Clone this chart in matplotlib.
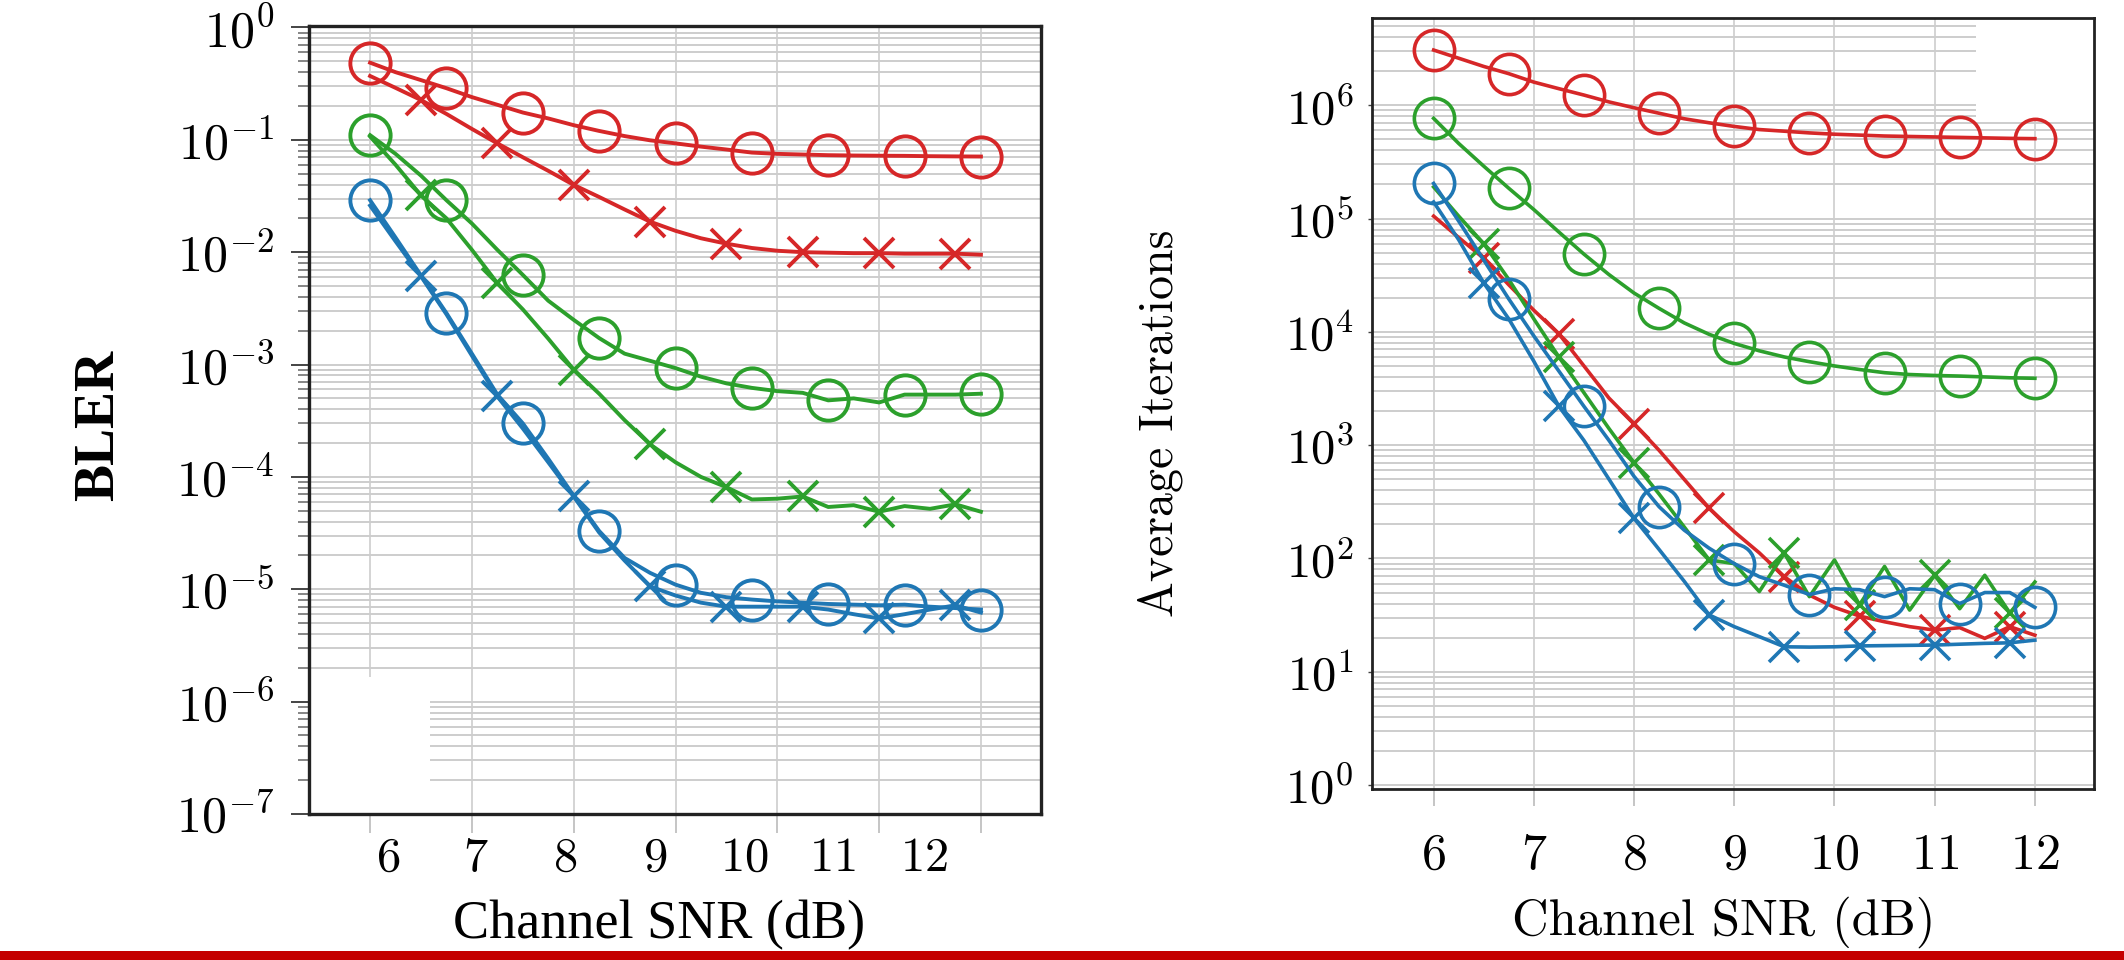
import numpy as np
import matplotlib
matplotlib.use('Agg')
import matplotlib.pyplot as plt
from matplotlib.patches import Rectangle
from matplotlib.ticker import LogLocator, FuncFormatter, NullFormatter, FixedLocator
import matplotlib.transforms as mtransforms

plt.rcParams['mathtext.fontset'] = 'cm'

# ---------------- data ----------------
snr = [6.0, 6.25, 6.5, 6.75, 7.0, 7.25, 7.5, 7.75, 8.0, 8.25, 8.5, 8.75, 9.0,
       9.25, 9.5, 9.75, 10.0, 10.25, 10.5, 10.75, 11.0, 11.25, 11.5, 11.75, 12.0]

bler_red_o = [0.486, 0.40, 0.34, 0.288, 0.24, 0.205, 0.175, 0.155, 0.135, 0.12, 0.108, 0.099, 0.093,
              0.087, 0.082, 0.077, 0.075, 0.074, 0.073, 0.0725, 0.0722, 0.072, 0.0715, 0.0712, 0.071]
bler_red_x = [0.37, 0.29, 0.226, 0.17, 0.125, 0.093, 0.07, 0.053, 0.0397, 0.031, 0.024, 0.0187, 0.0155,
              0.0133, 0.0119, 0.0109, 0.0103, 0.0100, 0.0099, 0.0098, 0.0098, 0.0097, 0.0097, 0.0097, 0.0095]
bler_green_o = [0.11, 0.075, 0.048, 0.029, 0.018, 0.0105, 0.00628, 0.0037, 0.0025, 0.00172, 0.00125, 0.00108, 0.00093,
                0.00078, 0.00068, 0.00062, 0.00058, 0.00056, 0.00048, 0.0005, 0.00046, 0.00054, 0.00054, 0.00054, 0.00055]
bler_green_x = [0.107, 0.06, 0.032, 0.02, 0.0105, 0.0053, 0.0031, 0.0017, 0.0009, 0.00055, 0.00032, 0.000195, 0.000135,
                0.0001, 8.1e-5, 6.3e-5, 6.4e-5, 6.7e-5, 5.4e-5, 5.6e-5, 4.9e-5, 5.5e-5, 5.2e-5, 5.7e-5, 4.9e-5]
bler_blue_o = [0.029, 0.0135, 0.0062, 0.00287, 0.00125, 0.00054, 0.0003, 0.000145, 6.8e-5, 3.3e-5, 1.9e-5, 1.4e-5, 1.1e-5,
               9.3e-6, 8.5e-6, 8.1e-6, 7.8e-6, 7.6e-6, 7.4e-6, 7.3e-6, 7.2e-6, 7.3e-6, 7.0e-6, 6.8e-6, 6.6e-6]
bler_blue_x = [0.026, 0.0125, 0.0061, 0.0028, 0.0012, 0.00052, 0.00027, 0.000135, 6.7e-5, 3.2e-5, 1.8e-5, 1.06e-5, 8.8e-6,
               7.6e-6, 7.0e-6, 7.0e-6, 7.0e-6, 7.0e-6, 6.6e-6, 6.0e-6, 5.5e-6, 6.0e-6, 6.6e-6, 7.2e-6, 6.2e-6]

it_red_o = [3.07e6, 2.6e6, 2.2e6, 1.9e6, 1.6e6, 1.4e6, 1.23e6, 1.07e6, 9.5e5, 8.5e5, 7.6e5, 7.0e5, 6.5e5,
            6.1e5, 5.9e5, 5.7e5, 5.55e5, 5.45e5, 5.35e5, 5.3e5, 5.25e5, 5.2e5, 5.15e5, 5.1e5, 5.07e5]
it_red_x = [1.05e5, 6.8e4, 4.45e4, 2.6e4, 1.55e4, 9.6e3, 5.0e3, 2.6e3, 1.55e3, 900, 500, 277, 172,
            112, 69, 47.5, 37, 31, 27.6, 25, 23.3, 24.5, 19.7, 25, 21]
it_green_o = [7.66e5, 4.6e5, 2.9e5, 1.85e5, 1.2e5, 7.6e4, 4.85e4, 3.2e4, 2.2e4, 1.61e4, 1.2e4, 9.5e3, 7.9e3,
              6.8e3, 6.0e3, 5.45e3, 5.0e3, 4.65e3, 4.36e3, 4.2e3, 4.12e3, 4.07e3, 4.0e3, 3.93e3, 3.89e3]
it_green_x = [1.9e5, 1.05e5, 6.0e4, 2.9e4, 1.3e4, 6.0e3, 2.9e3, 1.4e3, 700, 370, 190, 97, 90,
              51, 111, 46, 97, 39, 85, 35, 71, 36, 71, 33, 62]
it_blue_o = [2.04e5, 9.5e4, 4.3e4, 1.95e4, 9.2e3, 4.5e3, 2.2e3, 1.1e3, 530, 286, 178, 123, 90,
             69, 58, 48, 54, 53, 46, 54, 53, 40, 50, 50, 37]
it_blue_x = [1.4e5, 6.5e4, 2.7e4, 1.3e4, 5.5e3, 2.2e3, 1.1e3, 500, 226, 120, 63, 31.7, 25,
             20.4, 16.6, 16.5, 16.6, 16.9, 17, 17.1, 17.2, 17.5, 17.8, 18, 19]

xtick_vals = [6, 7, 8, 9, 10, 11, 12]
xtick_labels = ['6', '7', '8', '9', '10', '11', '12']

# ---------------- style ----------------
RED, GREEN, BLUE = '#d62728', '#2ca02c', '#1f77b4'
GRID = '#cdcdcd'
W, H = 2124, 960

fig = plt.figure(figsize=(W / 100, H / 100), dpi=100)

def ax_rect(x0, x1, y0, y1):
    return [x0 / W, 1 - y1 / H, (x1 - x0) / W, (y1 - y0) / H]

ax1 = fig.add_axes(ax_rect(309, 1041, 26, 814))
ax2 = fig.add_axes(ax_rect(1372, 2094, 18, 789))

def log_fmt(v, p):
    return r'$10^{%d}$' % int(round(np.log10(v)))

for ax in (ax1, ax2):
    ax.set_yscale('log')
    ax.set_axisbelow(True)
    ax.yaxis.set_major_locator(LogLocator(base=10, numticks=30))
    ax.yaxis.set_minor_locator(LogLocator(base=10, subs=np.arange(2, 10), numticks=30))
    ax.yaxis.set_major_formatter(FuncFormatter(log_fmt))
    ax.yaxis.set_minor_formatter(NullFormatter())
    ax.xaxis.set_major_locator(FixedLocator(xtick_vals))
    ax.grid(True, which='major', axis='x', color=GRID, lw=1.2)
    ax.grid(True, which='both', axis='y', color=GRID, lw=1.4)

# ---------------- left: BLER ----------------
ax1.set_xlim(5.40, 12.59)
ax1.set_ylim(1e-7, 10 ** 0.013)
series1 = [(bler_red_o, RED, 'o'), (bler_red_x, RED, 'x'),
           (bler_green_o, GREEN, 'o'), (bler_green_x, GREEN, 'x'),
           (bler_blue_o, BLUE, 'o'), (bler_blue_x, BLUE, 'x')]
for vals, c, m in series1:
    ax1.plot(snr, vals, color=c, lw=2.8, marker=m,
             markersize=29 if m == 'o' else 21, mew=2.8, mfc='none',
             markevery=(0, 3) if m == 'o' else (2, 3), zorder=3)
# white patch in lower left corner
ax1.add_patch(Rectangle((5.40, 1e-7), 6.59 - 5.40, 1.66e-6 - 1e-7,
                        facecolor='white', edgecolor='none', zorder=1))
ax1.xaxis.set_major_formatter(NullFormatter())
ax1.tick_params(axis='x', which='major', direction='out', length=14, width=1.2,
                color='#bbbbbb')
ax1.tick_params(axis='y', which='major', direction='out', length=13, width=1.4,
                color='#444444', labelsize=36, pad=12)
ax1.tick_params(axis='y', which='minor', direction='out', length=8, width=1.1,
                color='#666666')
for s in ax1.spines.values():
    s.set_linewidth(2.4)
    s.set_color('#222222')
# shifted x tick labels, as in the reference
label_pos = [6.18, 7.04, 7.92, 8.80, 9.68, 10.54, 11.44]
trans1 = mtransforms.blended_transform_factory(ax1.transData, ax1.transAxes)
for xp, lab in zip(label_pos, xtick_labels):
    ax1.text(xp, -0.024, r'$%s$' % lab, transform=trans1, ha='center', va='top',
             fontsize=35)

fig.text(99 / W, 1 - 425 / H, 'BLER', rotation=90, ha='center', va='center',
         fontsize=40, fontweight='bold', family='Liberation Serif')
fig.text(659 / W, 1 - 925 / H, 'Channel SNR (dB)', ha='center', va='center',
         fontsize=39, family='Liberation Serif')

# ---------------- right: iterations ----------------
ax2.set_xlim(5.385, 12.59)
ax2.set_ylim(10 ** -0.035, 10 ** 6.77)
series2 = [(it_red_o, RED, 'o'), (it_red_x, RED, 'x'),
           (it_green_o, GREEN, 'o'), (it_green_x, GREEN, 'x'),
           (it_blue_o, BLUE, 'o'), (it_blue_x, BLUE, 'x')]
for vals, c, m in series2:
    ax2.plot(snr, vals, color=c, lw=2.6, marker=m,
             markersize=29 if m == 'o' else 22, mew=2.6, mfc='none',
             markevery=(0, 3) if m == 'o' else (2, 3), zorder=3)
ax2.add_patch(Rectangle((11.41, 10 ** 5.887), 12.59 - 11.41, 10 ** 6.77 - 10 ** 5.887,
                        facecolor='white', edgecolor='none', zorder=1))
ax2.xaxis.set_major_formatter(FuncFormatter(lambda v, p: r'$%d$' % int(round(v))))
ax2.tick_params(axis='x', which='major', direction='out', length=12, width=1.2,
                color='#bbbbbb', labelsize=36, pad=18)
ax2.tick_params(axis='y', which='major', direction='out', length=3, width=1.0,
                color='#444444', labelsize=35, pad=10)
ax2.tick_params(axis='y', which='minor', length=0)
for s in ax2.spines.values():
    s.set_linewidth(2.0)
    s.set_color('#222222')

fig.text(1160 / W, 1 - 423 / H, 'Average Iterations', rotation=90, ha='center',
         va='center', fontsize=34.5, family='cmr10')
fig.text(1724 / W, 1 - 922 / H, 'Channel SNR (dB)', ha='center', va='center',
         fontsize=36.5, family='cmr10')

# red bar at the bottom
fig.add_artist(Rectangle((0, 0), 1, 9 / H, transform=fig.transFigure,
                         facecolor='#c40000', edgecolor='none'))

fig.savefig('out.png', dpi=100)
